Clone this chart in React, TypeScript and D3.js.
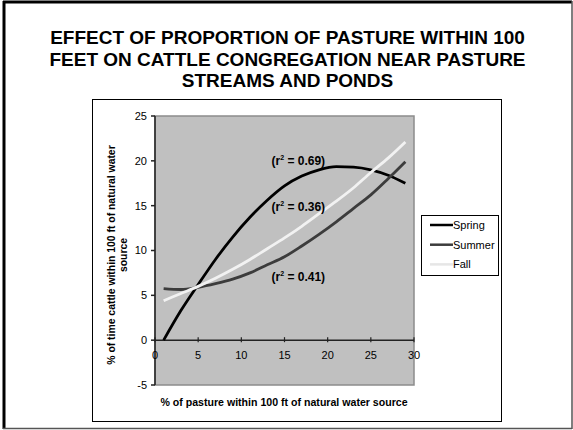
import React, { useRef, useEffect } from "react";
import * as d3 from "d3";

const xValues = [1, 3, 5, 7, 9, 11, 13, 15, 17, 19, 21, 23, 25, 27, 29];
const springValues = [0, 3.3, 6.2, 9.0, 11.5, 13.7, 15.6, 17.2, 18.3, 19.0, 19.35, 19.3, 19.0, 18.4, 17.5];
const summerValues = [5.75, 5.65, 5.9, 6.3, 6.8, 7.5, 8.4, 9.3, 10.5, 11.8, 13.2, 14.7, 16.2, 18.0, 19.9];
const fallValues = [4.4, 5.2, 6.0, 6.9, 7.9, 9.0, 10.2, 11.4, 12.7, 14.1, 15.5, 17.0, 18.7, 20.3, 22.1];

const seriesNames = ["Spring", "Summer", "Fall"];
const seriesColors = ["#000000", "#3c3c3c", "#f2f2f2"];
const r2Labels = ["0.69", "0.36", "0.41"];
const r2Positions = [20.0, 14.85, 7.05]; // y value where each label sits
const xTicks = [0, 5, 10, 15, 20, 25, 30];
const yTicks = [-5, 0, 5, 10, 15, 20, 25];

const titleLines = [
  "EFFECT OF PROPORTION OF PASTURE WITHIN 100",
  "FEET ON CATTLE CONGREGATION NEAR PASTURE",
  "STREAMS AND PONDS",
];
const xTitle = "% of pasture within 100 ft of natural water source";
const yTitleLines = ["% of time cattle within 100 ft of natural water", "source"];

const font = "Arial, 'Liberation Sans', sans-serif";

const App = () => {
  const wrapper = useRef(null);
  const width = 573;
  const height = 430;

  useEffect(() => {
    d3.select(wrapper.current).selectAll("*").remove();

    const svg = d3
      .select(wrapper.current)
      .append("svg")
      .attr("width", width)
      .attr("height", height)
      .style("position", "absolute")
      .style("left", "0px")
      .style("top", "0px")
      .style("background", "#fff")
      .style("font-family", font);

    // slide frame
    svg.append("line").attr("x1", 3).attr("x2", 572).attr("y1", 2).attr("y2", 2).attr("stroke", "#000").attr("stroke-width", 3);
    svg.append("line").attr("x1", 4).attr("x2", 4).attr("y1", 1).attr("y2", 429).attr("stroke", "#000").attr("stroke-width", 3);
    svg.append("line").attr("x1", 572).attr("x2", 572).attr("y1", 1).attr("y2", 429).attr("stroke", "#555").attr("stroke-width", 1.5);
    svg.append("line").attr("x1", 3).attr("x2", 572).attr("y1", 428.5).attr("y2", 428.5).attr("stroke", "#555").attr("stroke-width", 1.5);

    // title
    svg
      .selectAll("text.title")
      .data(titleLines)
      .enter()
      .append("text")
      .attr("class", "title")
      .attr("x", 287.5)
      .attr("y", (d, i) => 44 + i * 21.5)
      .attr("text-anchor", "middle")
      .attr("font-size", 19)
      .attr("font-weight", "bold")
      .text((d) => d);

    // chart object frame
    svg
      .append("rect")
      .attr("x", 92.5)
      .attr("y", 99.5)
      .attr("width", 409)
      .attr("height", 322)
      .attr("fill", "#fff")
      .attr("stroke", "#000")
      .attr("stroke-width", 1);

    const x = d3.scaleLinear().domain([0, 30]).range([155, 414]);
    const y = d3.scaleLinear().domain([-5, 25]).range([385, 116]);

    // plot area
    svg
      .append("rect")
      .attr("x", x(0))
      .attr("y", y(25))
      .attr("width", x(30) - x(0))
      .attr("height", y(-5) - y(25))
      .attr("fill", "#c0c0c0")
      .attr("stroke", "#8c8c8c")
      .attr("stroke-width", 1.5);

    // y axis
    const yAxis = svg.append("g");
    yAxis
      .append("line")
      .attr("x1", x(0))
      .attr("x2", x(0))
      .attr("y1", y(25))
      .attr("y2", y(-5))
      .attr("stroke", "#222")
      .attr("stroke-width", 1.5);
    yAxis
      .selectAll("line.tick")
      .data(yTicks)
      .enter()
      .append("line")
      .attr("class", "tick")
      .attr("x1", x(0) - 4)
      .attr("x2", x(0))
      .attr("y1", (d) => y(d))
      .attr("y2", (d) => y(d))
      .attr("stroke", "#222")
      .attr("stroke-width", 1.5);
    yAxis
      .selectAll("text")
      .data(yTicks)
      .enter()
      .append("text")
      .attr("x", x(0) - 8)
      .attr("y", (d) => y(d))
      .attr("dy", "0.35em")
      .attr("text-anchor", "end")
      .attr("font-size", 11)
      .text((d) => d);

    // x axis at y = 0
    const xAxis = svg.append("g");
    xAxis
      .append("line")
      .attr("x1", x(0))
      .attr("x2", x(30))
      .attr("y1", y(0))
      .attr("y2", y(0))
      .attr("stroke", "#222")
      .attr("stroke-width", 1.5);
    xAxis
      .selectAll("line.tick")
      .data(xTicks)
      .enter()
      .append("line")
      .attr("class", "tick")
      .attr("x1", (d) => x(d))
      .attr("x2", (d) => x(d))
      .attr("y1", y(0) - 3)
      .attr("y2", y(0) + 2)
      .attr("stroke", "#222")
      .attr("stroke-width", 1.2);
    xAxis
      .selectAll("text")
      .data(xTicks)
      .enter()
      .append("text")
      .attr("x", (d) => x(d))
      .attr("y", y(0) + 19)
      .attr("text-anchor", "middle")
      .attr("font-size", 11)
      .text((d) => d);

    // trendlines
    const series = [springValues, summerValues, fallValues];
    const line = d3
      .line()
      .x((d, i) => x(xValues[i]))
      .y((d) => y(d))
      .curve(d3.curveMonotoneX);

    svg
      .selectAll("path.series")
      .data(series)
      .enter()
      .append("path")
      .attr("class", "series")
      .attr("d", (d) => line(d))
      .attr("fill", "none")
      .attr("stroke", (d, i) => seriesColors[i])
      .attr("stroke-width", 2.8)
      .attr("stroke-linecap", "butt");

    // r² labels
    const r2 = svg
      .selectAll("text.r2")
      .data(r2Labels)
      .enter()
      .append("text")
      .attr("class", "r2")
      .attr("x", x(16.6))
      .attr("y", (d, i) => y(r2Positions[i]))
      .attr("dy", "0.35em")
      .attr("text-anchor", "middle")
      .attr("font-size", 12)
      .attr("font-weight", "bold");
    r2.append("tspan").text("(r");
    r2.append("tspan").attr("font-size", 7).attr("dy", -5).text("2");
    r2.append("tspan").attr("dy", 5).text((d) => ` = ${d})`);

    // axis titles
    svg
      .append("text")
      .attr("x", 284)
      .attr("y", 406)
      .attr("text-anchor", "middle")
      .attr("font-size", 10.6)
      .attr("font-weight", "bold")
      .text(xTitle);

    svg
      .selectAll("text.ytitle")
      .data(yTitleLines)
      .enter()
      .append("text")
      .attr("class", "ytitle")
      .attr("transform", (d, i) => `translate(${114.5 + i * 12.5},${255}) rotate(-90)`)
      .attr("text-anchor", "middle")
      .attr("font-size", 10.4)
      .attr("font-weight", "bold")
      .text((d) => d);

    // legend
    const legend = svg.append("g");
    legend
      .append("rect")
      .attr("x", 421.5)
      .attr("y", 215.5)
      .attr("width", 77)
      .attr("height", 60)
      .attr("fill", "#fff")
      .attr("stroke", "#000")
      .attr("stroke-width", 1);
    const items = legend
      .selectAll("g")
      .data(seriesNames)
      .enter()
      .append("g")
      .attr("transform", (d, i) => `translate(0,${225 + i * 19.7})`);
    items
      .append("line")
      .attr("x1", 430)
      .attr("x2", 453)
      .attr("y1", 0)
      .attr("y2", 0)
      .attr("stroke", (d, i) => (i === 2 ? "#e6e6e6" : seriesColors[i]))
      .attr("stroke-width", 2.5);
    items
      .append("text")
      .attr("x", 453)
      .attr("y", 0)
      .attr("dy", "0.35em")
      .attr("font-size", 11)
      .text((d) => d);
  }, [wrapper]);

  return <div ref={wrapper}></div>;
};

export default App;
